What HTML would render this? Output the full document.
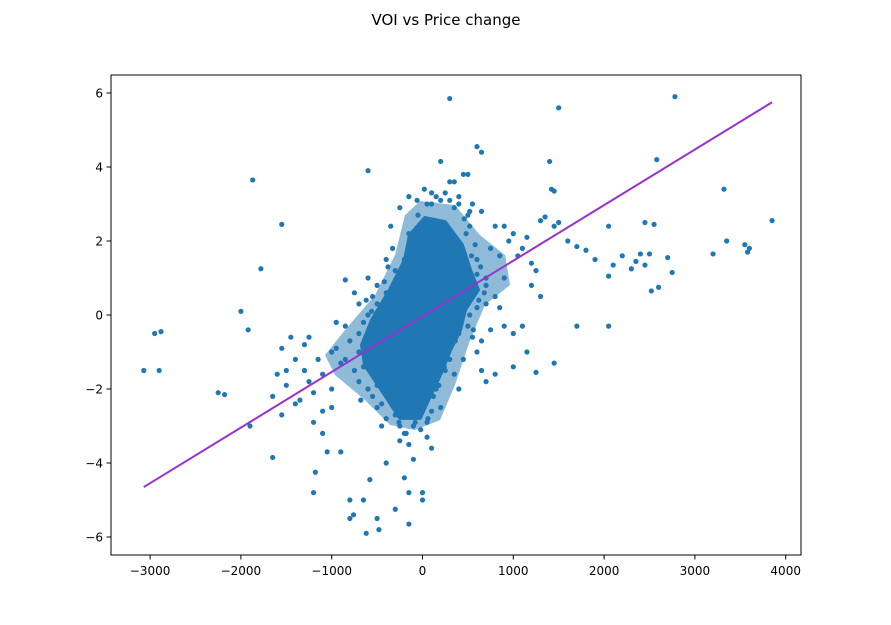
<!DOCTYPE html>
<html><head><meta charset="utf-8"><style>
body{margin:0;background:#fff;font-family:"Liberation Sans","DejaVu Sans",sans-serif}
svg{display:block}
text{font-family:"DejaVu Sans","Liberation Sans",sans-serif}
</style></head><body>
<svg id="chart" width="891" height="625">
<text x="446" y="25" text-anchor="middle" font-size="15">VOI vs Price change</text>
<rect x="111" y="75" width="690" height="480" fill="#fff" stroke="#000" stroke-width="1"/>
<g id="core"></g>
<g id="points"></g>
<g id="fit"></g>
<g id="xaxis"></g>
<g id="yaxis"></g>
</svg>
<script>
const xTicks=[-3000,-2000,-1000,0,1000,2000,3000,4000];
const yTicks=[-6,-4,-2,0,2,4,6];
const fitLine=[[-3070,-4.65],[3850,5.75]];
const haloHull=[[-28,3.08],[358,2.97],[633,2.16],[909,1.62],[964,0.81],[688,0.27],[523,-0.68],[358,-1.89],[193,-2.84],[-83,-3.11],[-358,-2.97],[-633,-2.30],[-964,-1.62],[-1074,-1.08],[-854,-0.41],[-523,0.54],[-303,1.62],[-193,2.70]];
const coreHull=[[27,2.62],[248,2.51],[435,1.89],[523,1.22],[611,0.68],[468,0.14],[413,-0.41],[303,-0.95],[193,-1.62],[61,-2.30],[-28,-2.78],[-248,-2.78],[-413,-2.16],[-633,-1.35],[-666,-0.81],[-556,-0.14],[-358,0.68],[-193,1.49],[-138,2.16]];
const ptsX=[-3070,-2950,-2880,-2900,-2250,-2180,-2000,-1920,-1900,-1870,-1780,-1550,-1650,-1650,-1600,-1550,-1500,-1450,-1400,-1350,-1300,-1250,-1200,-1200,-1180,-1150,-1100,-1100,-1050,-1000,-950,-900,-900,-850,-800,-800,-760,-700,-650,-620,-600,-580,-500,-450,-480,-400,-300,-250,-200,-150,-150,-100,0,0,50,100,300,200,350,450,500,600,650,500,650,650,700,800,1000,1000,1100,1150,1250,1300,1400,1420,1450,1500,1450,1300,1350,1450,1500,1600,1700,1700,1800,1900,2050,2050,2050,2100,2200,2300,2350,2400,2450,2450,2500,2520,2550,2580,2600,2700,2750,2780,3200,3320,3350,3550,3580,3600,3850,1200,1100,900,800,1000,900,800,700,600,650,550,400,300,100,50,-50,-150,-200,-300,-400,-500,-550,-600,-700,-800,-850,-700,-600,-500,-400,-300,-200,-100,0,100,150,200,300,400,500,600,500,-1400,-1300,-1000,-1000,-1100,-1200,-1500,-1550,-1250,-950,-850,-750,-600,-500,-400,-350,-250,-150,50,200,250,350,450,550,700,750,850,950,1050,1150,1200,1250,850,900,750,600,400,
-650,-700,-600,-550,-500,-450,-650,-750,-680,-620,-560,-480,-420,-380,-330,-350,-250,-150,-80,-20,60,120,180,240,300,360,420,520,560,600,540,480,520,580,640,700,560,620,680,520,460,400,350,300,250,200,150,100,20,-60,-100,-180,-220,-260,-300,-340,-380];
const ptsY=[-1.5,-0.5,-0.45,-1.5,-2.1,-2.15,0.1,-0.4,-3.0,3.65,1.25,2.45,-3.85,-2.2,-1.6,-2.7,-1.5,-0.6,-2.4,-2.3,-0.8,-1.8,-2.9,-4.8,-4.25,-1.2,-3.2,-1.6,-3.7,-2.5,-0.9,-1.3,-3.7,0.95,-5.0,-5.5,-5.4,0.3,-5.0,-5.9,3.9,-4.45,-5.5,-3.0,-5.8,-4.0,-5.25,-3.4,-4.4,-5.65,-4.8,-3.9,-4.8,-5.0,-3.3,-3.6,5.85,4.15,3.6,3.8,3.8,4.55,4.4,2.7,-1.5,-0.7,-1.8,-1.6,-0.5,-1.4,-0.3,-1.0,-1.55,0.5,4.15,3.4,3.35,5.6,-1.3,2.55,2.65,2.4,2.5,2.0,1.85,-0.3,1.75,1.5,2.4,-0.3,1.05,1.35,1.6,1.25,1.45,1.65,2.5,1.35,1.65,0.65,2.45,4.2,0.75,1.55,1.15,5.9,1.65,3.4,2.0,1.9,1.7,1.8,2.55,1.4,1.8,2.4,2.4,2.2,1.0,0.5,0.8,1.5,2.8,3.0,3.2,3.6,3.3,3.0,2.7,2.2,1.5,1.2,1.5,0.8,0.5,0.0,-0.5,-0.7,-1.2,-1.8,-2.0,-2.5,-2.8,-2.7,-3.2,-2.6,-2.2,-2.6,-2.0,-1.2,-0.8,-0.5,-0.3,0.2,1.2,-1.2,-1.5,-1.0,-2.0,-2.6,-2.1,-1.9,-0.9,-0.6,-0.2,-0.3,0.6,1.0,0.3,0.6,-2.0,-3.0,-3.5,-2.9,-2.5,-1.5,-1.6,-1.2,-0.6,0.3,1.8,1.6,2.0,1.6,2.1,0.8,1.2,0.2,-0.3,-0.4,-1.0,-2.0,
-1.4,-1.0,-0.6,-2.2,-1.9,-2.4,-0.2,-1.5,-2.3,0.4,0.1,-0.3,0.9,1.3,1.8,2.4,2.9,3.2,-2.9,-3.1,-2.8,-2.2,-1.9,-1.4,-1.2,-0.7,-0.2,0.0,0.6,1.1,1.6,2.2,2.4,1.9,1.3,1.0,-0.4,0.4,0.6,2.8,2.6,3.0,2.9,3.1,3.3,3.1,3.2,3.0,3.4,3.1,-3.0,-3.2,-2.7,-2.9,-2.5,-2.4,-2.2];
const NS='http://www.w3.org/2000/svg';
const sx=v=>422.5+v*0.0908;
const sy=v=>315-v*37;
function mk(t,a,p){const e=document.createElementNS(NS,t);for(const k in a)e.setAttribute(k,a[k]);p.appendChild(e);return e;}
const core=document.getElementById('core');
const halo=mk('polygon',{points:haloHull.map(p=>sx(p[0])+','+sy(p[1])).join(' '),fill:'#1f77b4','fill-opacity':0.5,'stroke-linejoin':'round'},core);


const poly=mk('polygon',{points:coreHull.map(p=>sx(p[0])+','+sy(p[1])).join(' '),fill:'#1f77b4',stroke:'#1f77b4','stroke-width':4,'stroke-linejoin':'round'},core);


const pg=document.getElementById('points');
for(let i=0;i<ptsX.length;i++){
 const c=mk('circle',{cx:sx(ptsX[i]),cy:sy(ptsY[i]),r:2.6,fill:'#1f77b4'},pg);
 
 
}
const l=mk('line',{x1:sx(fitLine[0][0]),y1:sy(fitLine[0][1]),x2:sx(fitLine[1][0]),y2:sy(fitLine[1][1]),stroke:'#9932cc','stroke-width':2},document.getElementById('fit'));


const xa=document.getElementById('xaxis');
xTicks.forEach(t=>{const x=sx(t);
 mk('line',{x1:x,y1:555,x2:x,y2:559.5,stroke:'#000'},xa);
 const tx=mk('text',{x:x,y:575,'text-anchor':'middle','font-size':12},xa);
 tx.textContent=(t<0?'\u2212'+(-t):t);
 
 
});
const ya=document.getElementById('yaxis');
yTicks.forEach(t=>{const y=sy(t);
 mk('line',{x1:106.5,y1:y,x2:111,y2:y,stroke:'#000'},ya);
 const tx=mk('text',{x:103,y:y+4.5,'text-anchor':'end','font-size':12},ya);
 tx.textContent=(t<0?'\u2212'+(-t):t);
 
 
});
</script>
</body></html>
